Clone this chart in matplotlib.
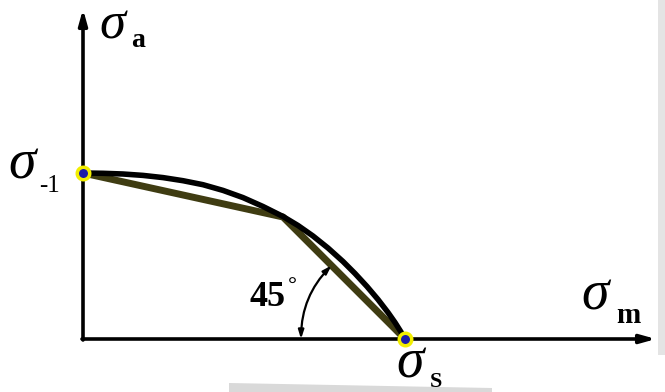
import matplotlib
matplotlib.use("Agg")
import matplotlib.pyplot as plt
from matplotlib.patches import Polygon, Rectangle, FancyArrowPatch

# Limit stress diagram (sigma_m vs sigma_a), units of the drawing
sigma_minus1 = 166          # fatigue limit on the sigma_a axis
sigma_s = 322               # yield point on the sigma_m axis
knee_m, knee_a = 200, 122   # break point of the simplified polyline

# Measured limit-stress curve
curve_m = [0, 20, 40, 60, 80, 100, 120, 140, 160, 180, 200, 215, 230, 245,
           260, 272, 284, 295, 305, 312, 318, 322]
curve_a = [166, 165.7, 165.0, 163.6, 161.4, 158.3, 154.3, 148.6, 141.4, 132.5,
           122.5, 113.5, 103.0, 91.0, 77.5, 65.5, 52.5, 39.5, 26.5, 16.5, 7.0, 0]

# Simplified polyline: sigma_-1 -> knee -> sigma_s (45 degree segment)
poly_m = [0, knee_m, sigma_s]
poly_a = [sigma_minus1, knee_a, 0]

fig = plt.figure(figsize=(6.65, 3.92), dpi=100)
ax = fig.add_axes([0, 0, 1, 1])
ax.set_xlim(-83, 582)
ax.set_ylim(-53, 339)
ax.axis("off")

serif = ["Liberation Serif", "DejaVu Serif"]

# background fragments
ax.add_patch(Rectangle((575, -16), 7, 355, facecolor="#e4e4e4", edgecolor="none", zorder=0))
ax.add_patch(Polygon([(146, -53), (146, -44), (409, -49), (409, -53)],
                     closed=True, facecolor="#d9d9d9", edgecolor="none", zorder=0))

# axes with arrows
ax.annotate("", xy=(0, 330), xytext=(0, -1),
            arrowprops=dict(arrowstyle="-|>,head_length=0.9,head_width=0.25",
                            lw=2.6, color="black", shrinkA=0, shrinkB=0), zorder=2)
ax.annotate("", xy=(573, 0), xytext=(-1, 0),
            arrowprops=dict(arrowstyle="-|>,head_length=0.9,head_width=0.25",
                            lw=2.6, color="black", shrinkA=0, shrinkB=0), zorder=2)

# simplified polyline and curve
ax.plot(poly_m, poly_a, color="#3f3c12", lw=5, solid_capstyle="round",
        solid_joinstyle="round", zorder=3)
ax.plot(curve_m, curve_a, color="black", lw=4, solid_capstyle="round",
        solid_joinstyle="round", zorder=4)

# end points
ax.plot([0, sigma_s], [sigma_minus1, 0], linestyle="none", marker="o",
        markersize=9, markerfacecolor="#1c1ca8", markeredgecolor="#f2ee00",
        markeredgewidth=2.5, zorder=5)

# 45 degree angle arc
arc = FancyArrowPatch((sigma_s - 104, 0), (sigma_s - 73.5, 73.5),
                      connectionstyle="arc3,rad=-0.2",
                      arrowstyle="<|-|>,head_length=5,head_width=1.6",
                      lw=1.6, color="black", shrinkA=0, shrinkB=0, zorder=4)
ax.add_patch(arc)
ax.text(166, 33, "45", fontsize=26, fontweight="bold", family=serif,
        ha="left", va="baseline", zorder=6)
ax.text(205, 47, "°", fontsize=16, fontweight="bold", family=serif,
        ha="left", va="baseline", zorder=6)

# axis labels
ax.text(16, 301, "σ", fontsize=38, style="italic", family=serif,
        ha="left", va="baseline", zorder=6)
ax.text(48, 292, "a", fontsize=20, fontweight="bold", family=serif,
        ha="left", va="baseline", zorder=6)

ax.text(498, 29, "σ", fontsize=40, style="italic", family=serif,
        ha="left", va="baseline", zorder=6)
ax.text(533, 16, "m", fontsize=21, fontweight="bold", family=serif,
        ha="left", va="baseline", zorder=6)

ax.text(-75, 161, "σ", fontsize=40, style="italic", family=serif,
        ha="left", va="baseline", zorder=6)
ax.text(-44, 147, "-1", fontsize=18, family=serif,
        ha="left", va="baseline", zorder=6)

ax.text(313, -38, "σ", fontsize=40, style="italic", family=serif,
        ha="left", va="baseline", zorder=6)
ax.text(347, -48, "S", fontsize=16, fontweight="bold", family=serif,
        ha="left", va="baseline", zorder=6)

fig.savefig("out.png", dpi=100)
